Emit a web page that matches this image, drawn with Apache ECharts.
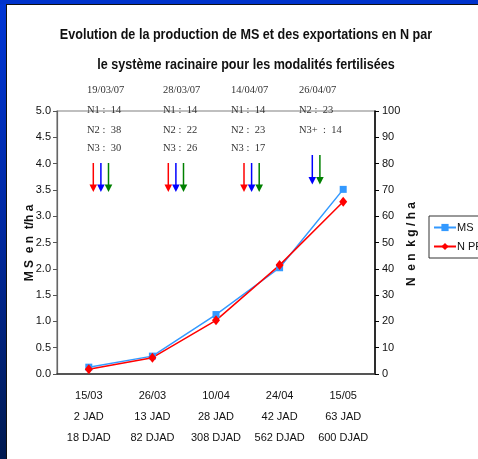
<!DOCTYPE html>
<html>
<head>
<meta charset="utf-8">
<script src="https://cdn.jsdelivr.net/npm/echarts/dist/echarts.min.js"></script>
<style>
  html, body { margin: 0; padding: 0; background: #fff; }
  #chart { width: 478px; height: 459px; }
</style>
</head>
<body>
<div id="chart"></div>
<script>
// Sampling dates, days after sowing (JAD) and degree-days (DJAD)
const sampleDates = ['15/03', '26/03', '10/04', '24/04', '15/05'];
const sampleJad = ['2 JAD', '13 JAD', '28 JAD', '42 JAD', '63 JAD'];
const sampleDjad = ['18 DJAD', '82 DJAD', '308 DJAD', '562 DJAD', '600 DJAD'];

// Dry matter (t/ha) and N uptake by the root system (kg/ha)
const msValues = [0.13, 0.34, 1.13, 2.02, 3.51];
const nValues = [1.8, 6.2, 20.4, 41.4, 65.5];

// Fertilisation events: date, doses per modality, arrows per modality
const fertDates = ['19/03/07', '28/03/07', '14/04/07', '26/04/07'];
const fertDoses = [
  ['N1 :  14', 'N2 :  38', 'N3 :  30'],
  ['N1 :  14', 'N2 :  22', 'N3 :  26'],
  ['N1 :  14', 'N2 :  23', 'N3 :  17'],
  ['N2 :  23', 'N3+  :  14']
];
const fertArrows = [
  ['#ff0000', '#0000ff', '#008000'],
  ['#ff0000', '#0000ff', '#008000'],
  ['#ff0000', '#0000ff', '#008000'],
  ['#0000ff', '#008000']
];

const categories = sampleDates.map((d, i) => d + '\n' + sampleJad[i] + '\n' + sampleDjad[i]);

const SANS = '"Liberation Sans", Arial, sans-serif';
const SERIF = '"Liberation Serif", "DejaVu Serif", serif';

// Annotation layout
const colLeft = [87, 163, 231, 299];
const rowY = [90, 110.5, 130, 148.5];
const arrowStart = [93.3, 168.3, 244, 312.3];
const arrowTop = [163, 163, 163, 155];
const arrowTip = [192, 192, 192, 184.5];

const graphics = [
  // frame around the white panel
  { type: 'rect', shape: { x: 0, y: 0, width: 6, height: 459 }, z: 0,
    style: { fill: new echarts.graphic.LinearGradient(0, 0, 0, 1, [
      { offset: 0, color: '#0036d6' }, { offset: 0.5, color: '#0028a0' }, { offset: 1, color: '#001a50' }]) } },
  { type: 'rect', shape: { x: 0, y: 0, width: 478, height: 4 }, z: 0, style: { fill: '#0033cc' } },
  { type: 'line', shape: { x1: 6, y1: 4.5, x2: 478, y2: 4.5 }, z: 0, style: { stroke: '#111', lineWidth: 1 } },
  { type: 'line', shape: { x1: 6.5, y1: 4, x2: 6.5, y2: 459 }, z: 0, style: { stroke: '#111', lineWidth: 1 } },
  // title (condensed bold)
  { type: 'text', x: 246, y: 20, scaleX: 0.84, z: 10,
    style: { text: 'Evolution de la production de MS et des exportations en N par\nle système racinaire pour les modalités fertilisées',
      font: 'bold 15px ' + SANS, fill: '#111', align: 'center', verticalAlign: 'top', lineHeight: 30 } },
  // axis names
  { type: 'text', x: 30, y: 243, rotation: Math.PI / 2, z: 10,
    style: { text: 'M S  e n  t/h a', font: 'bold 12px ' + SANS, fill: '#111',
      align: 'center', verticalAlign: 'middle' } },
  { type: 'text', x: 412, y: 244, rotation: Math.PI / 2, z: 10,
    style: { text: 'N  e n  k g / h a', font: 'bold 12px ' + SANS, fill: '#111',
      align: 'center', verticalAlign: 'middle' } }
];

fertDates.forEach((d, i) => {
  const lines = [d].concat(fertDoses[i]);
  lines.forEach((t, r) => {
    graphics.push({ type: 'text', x: colLeft[i], y: rowY[r], z: 20,
      style: { text: t, font: '10.5px ' + SERIF, fill: '#333', align: 'left', verticalAlign: 'middle' } });
  });
  fertArrows[i].forEach((c, k) => {
    const x = arrowStart[i] + k * 7.6;
    graphics.push({ type: 'line', z: 20,
      shape: { x1: x, y1: arrowTop[i], x2: x, y2: arrowTip[i] - 6 },
      style: { stroke: c, lineWidth: 1.5 } });
    graphics.push({ type: 'polygon', z: 20,
      shape: { points: [[x - 3.8, arrowTip[i] - 7.5], [x + 3.8, arrowTip[i] - 7.5], [x, arrowTip[i]]] },
      style: { fill: c } });
  });
});

const chart = echarts.init(document.getElementById('chart'), null, { renderer: 'canvas' });
chart.setOption({
  animation: false,
  backgroundColor: '#ffffff',
  grid: { left: 57, right: 103, top: 111, bottom: 85, show: true, borderColor: '#808080', borderWidth: 1.2, backgroundColor: 'transparent' },
  legend: {
    orient: 'vertical', left: 429, top: 216,
    backgroundColor: '#fff', borderColor: '#333', borderWidth: 1,
    padding: [6, 6, 6, 4], itemWidth: 22, itemHeight: 9, itemGap: 8,
    textStyle: { fontFamily: SANS, fontSize: 11, color: '#111', padding: [0, 0, 0, -4] },
    data: ['MS', 'N PR']
  },
  xAxis: {
    type: 'category', data: categories, boundaryGap: true,
    axisLine: { lineStyle: { color: '#333', width: 1.5 } },
    axisTick: { length: 5, lineStyle: { color: '#333' } },
    axisLabel: { interval: 0, margin: 11, lineHeight: 21, fontFamily: SANS, fontSize: 11, color: '#111' }
  },
  yAxis: [
    {
      type: 'value', min: 0, max: 5, interval: 0.5, position: 'left',
      axisLine: { show: true, lineStyle: { color: '#666', width: 1.2 } },
      axisTick: { show: true, length: 4, lineStyle: { color: '#555' } },
      splitLine: { show: false },
      axisLabel: { margin: 6, fontFamily: SANS, fontSize: 11, color: '#111', formatter: v => v.toFixed(1) }
    },
    {
      type: 'value', min: 0, max: 100, interval: 10, position: 'right',
      axisLine: { show: true, lineStyle: { color: '#000', width: 1.5 } },
      axisTick: { show: true, length: 4, lineStyle: { color: '#000' } },
      splitLine: { show: false },
      axisLabel: { margin: 7, fontFamily: SANS, fontSize: 11, color: '#111' }
    }
  ],
  series: [
    {
      name: 'MS', type: 'line', yAxisIndex: 0, data: msValues,
      color: '#3399ff', symbol: 'rect', symbolSize: 7,
      lineStyle: { width: 1.5 }, itemStyle: { color: '#3399ff' }
    },
    {
      name: 'N PR', type: 'line', yAxisIndex: 1, data: nValues,
      color: '#ff0000', symbol: 'diamond', symbolSize: [8, 10],
      lineStyle: { width: 1.5 }, itemStyle: { color: '#ff0000' }
    }
  ],
  graphic: graphics
});
</script>
</body>
</html>
